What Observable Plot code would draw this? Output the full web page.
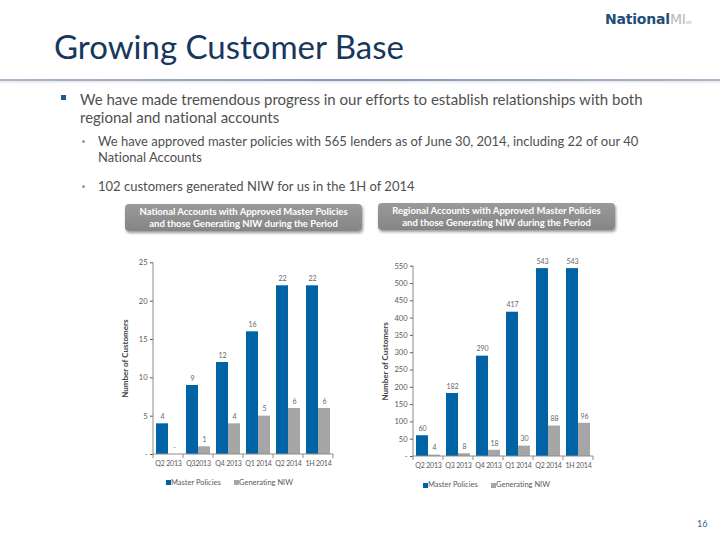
<!DOCTYPE html>
<html>
<head>
<meta charset="utf-8">
<script src="https://cdn.jsdelivr.net/npm/d3@7"></script>
<script src="https://cdn.jsdelivr.net/npm/@observablehq/plot@0.6"></script>
<style>
html,body{margin:0;padding:0;background:#fff;}
#slide{position:relative;width:720px;height:540px;overflow:hidden;font-family:Lato,"Open Sans",sans-serif;background:#fff;font-variant-ligatures:none;}
.abs{position:absolute;white-space:nowrap;}
#logo{left:605px;top:10px;font-family:"DejaVu Sans",sans-serif;font-size:14px;line-height:18px;font-weight:bold;color:#1F4E79;letter-spacing:-0.2px;}
#logo .mi{color:#b8b8b8;font-family:"DejaVu Sans",sans-serif;font-weight:normal;font-size:14px;}
#logo .sm{color:#b5b5b5;font-size:4px;font-weight:normal;}
#title{left:54px;top:30px;font-size:33px;line-height:32px;color:#17375E;}
#rule{left:0;top:79px;width:720px;height:2px;background:linear-gradient(to right,#a8b8cc,#8499b3 50%,#a8b8cc);}
#rule2{left:0;top:81px;width:720px;height:3px;background:linear-gradient(#e6e6e6,#fff);}
.b1{left:80px;font-size:15px;line-height:17.5px;color:#505050;}
.sq{width:5px;height:5px;background:#24578a;}
.b2{left:98px;font-size:13px;line-height:16px;color:#505050;}
.dot{width:3px;height:3px;border-radius:50%;background:#7f9fc2;}
.box{height:27px;border-radius:4px;background:linear-gradient(#9a9a9a,#858585);box-shadow:1px 2px 3px rgba(0,0,0,0.4);color:#fff;font-weight:bold;font-size:9.5px;line-height:12px;text-align:center;display:flex;align-items:center;justify-content:center;white-space:normal;}
.leg{font-size:7.5px;color:#595959;line-height:10px;}
.legsq{width:5px;height:5px;}
#pg{left:697px;top:518px;font-size:9px;color:#3b5e85;}
.chart{position:absolute;}
.chart svg [aria-label="y-axis label"] text{font-weight:bold;font-size:8px;fill:#404040;}
.chart svg [aria-label="fx-axis tick label"] text{font-size:7px;letter-spacing:-0.2px;}
</style>
</head>
<body>
<div id="slide">
  <div id="logo" class="abs">National<span class="mi">MI</span><span class="sm">SM</span></div>
  <div id="title" class="abs">Growing Customer Base</div>
  <div id="rule" class="abs"></div>
  <div id="rule2" class="abs"></div>

  <div class="abs sq" style="left:61px;top:95px;"></div>
  <div class="abs b1" style="top:91px;">We have made tremendous progress in our efforts to establish relationships with both<br>regional and national accounts</div>

  <div class="abs dot" style="left:82px;top:140px;"></div>
  <div class="abs b2" style="top:133px;">We have approved master policies with 565 lenders as of June 30, 2014, including 22 of our 40<br>National Accounts</div>

  <div class="abs dot" style="left:82px;top:185px;"></div>
  <div class="abs b2" style="top:178px;">102 customers generated NIW for us in the 1H of 2014</div>

  <div class="abs box" style="left:125px;top:204px;width:237px;">National Accounts with Approved Master Policies<br>and those Generating NIW during the Period</div>
  <div class="abs box" style="left:378px;top:203px;width:237px;">Regional Accounts with Approved Master Policies<br>and those Generating NIW during the Period</div>

  <div id="chartL" class="chart" style="left:110px;top:250px;"></div>
  <div id="chartR" class="chart" style="left:370px;top:250px;"></div>

  <div class="abs legsq" style="left:166px;top:480px;background:#0063A6;"></div>
  <div class="abs leg" style="left:171px;top:477.5px;">Master Policies</div>
  <div class="abs legsq" style="left:234px;top:480px;background:#A6A6A6;"></div>
  <div class="abs leg" style="left:239px;top:477.5px;">Generating NIW</div>

  <div class="abs legsq" style="left:423px;top:482.5px;background:#0063A6;"></div>
  <div class="abs leg" style="left:428px;top:480px;">Master Policies</div>
  <div class="abs legsq" style="left:491px;top:482.5px;background:#A6A6A6;"></div>
  <div class="abs leg" style="left:496px;top:480px;">Generating NIW</div>

  <div id="pg" class="abs">16</div>
</div>
<script>
// ---- Data ----
const seriesNames = ["Master Policies", "Generating NIW"];
const seriesColors = ["#0063A6", "#A6A6A6"];

const nationalCategories = ["Q2 2013", "Q32013", "Q4 2013", "Q1 2014", "Q2 2014", "1H 2014"];
const nationalMaster = [4, 9, 12, 16, 22, 22];
const nationalNIW = [0, 1, 4, 5, 6, 6];
const nationalTicks = [0, 5, 10, 15, 20, 25];

const regionalCategories = ["Q2 2013", "Q3 2013", "Q4 2013", "Q1 2014", "Q2 2014", "1H 2014"];
const regionalMaster = [60, 182, 290, 417, 543, 543];
const regionalNIW = [4, 8, 18, 30, 88, 96];
const regionalTicks = [0, 50, 100, 150, 200, 250, 300, 350, 400, 450, 500, 550];

function axisLines(cats) {
  return Plot.frame({
    facet: "super",
    render(index, scales) {
      const fx = scales.fx, y = scales.y;
      const g = d3.create("svg:g").attr("stroke", "#8c8c8c").attr("fill", "none");
      if (!fx || !y) return g.node();
      const x0 = fx(cats[0]);
      const x1 = fx(cats[cats.length - 1]) + fx.bandwidth();
      const yb = y(0), yt = y(y.domain()[1]);
      g.append("line").attr("x1", x0).attr("x2", x0).attr("y1", yt).attr("y2", yb);
      g.append("line").attr("x1", x0).attr("x2", x1).attr("y1", yb).attr("y2", yb);
      const bounds = cats.map(c => fx(c)).concat([x1]);
      for (const b of bounds) {
        g.append("line").attr("x1", b).attr("x2", b).attr("y1", yb).attr("y2", yb + 4);
      }
      return g.node();
    }
  });
}

function chart(cats, master, niw, ticks, marginTop, marginBottom) {
  const rows = [];
  cats.forEach((c, i) => {
    rows.push({cat: c, series: seriesNames[0], value: master[i]});
    rows.push({cat: c, series: seriesNames[1], value: niw[i]});
  });
  return Plot.plot({
    width: 233,
    height: 225,
    marginLeft: 43,
    marginRight: 10,
    marginTop,
    marginBottom,
    style: {fontFamily: "Lato, sans-serif", fontSize: "7.5px", color: "#595959", background: "transparent", overflow: "visible"},
    fx: {domain: cats, padding: 0, axis: "bottom", tickSize: 0, tickPadding: 7, label: null},
    x: {domain: seriesNames, paddingInner: 0, paddingOuter: 0.18, axis: null},
    y: {domain: [0, ticks[ticks.length - 1]], ticks, tickFormat: d => d === 0 ? "-" : d, tickSize: 3, tickPadding: 3,
        label: "Number of Customers", labelAnchor: "center", labelOffset: 31, labelArrow: "none"},
    color: {domain: seriesNames, range: seriesColors},
    marks: [
      Plot.barY(rows, {fx: "cat", x: "series", y: "value", fill: "series"}),
      Plot.text(rows, {fx: "cat", x: "series", y: "value", text: d => d.value === 0 ? "-" : String(d.value), dy: -7, fill: "#666666", fontSize: 7}),
      axisLines(cats)
    ]
  });
}

document.getElementById("chartL").append(chart(nationalCategories, nationalMaster, nationalNIW, nationalTicks, 12.3, 21));
document.getElementById("chartR").append(chart(regionalCategories, regionalMaster, regionalNIW, regionalTicks, 15.7, 19));
</script>
</body>
</html>
